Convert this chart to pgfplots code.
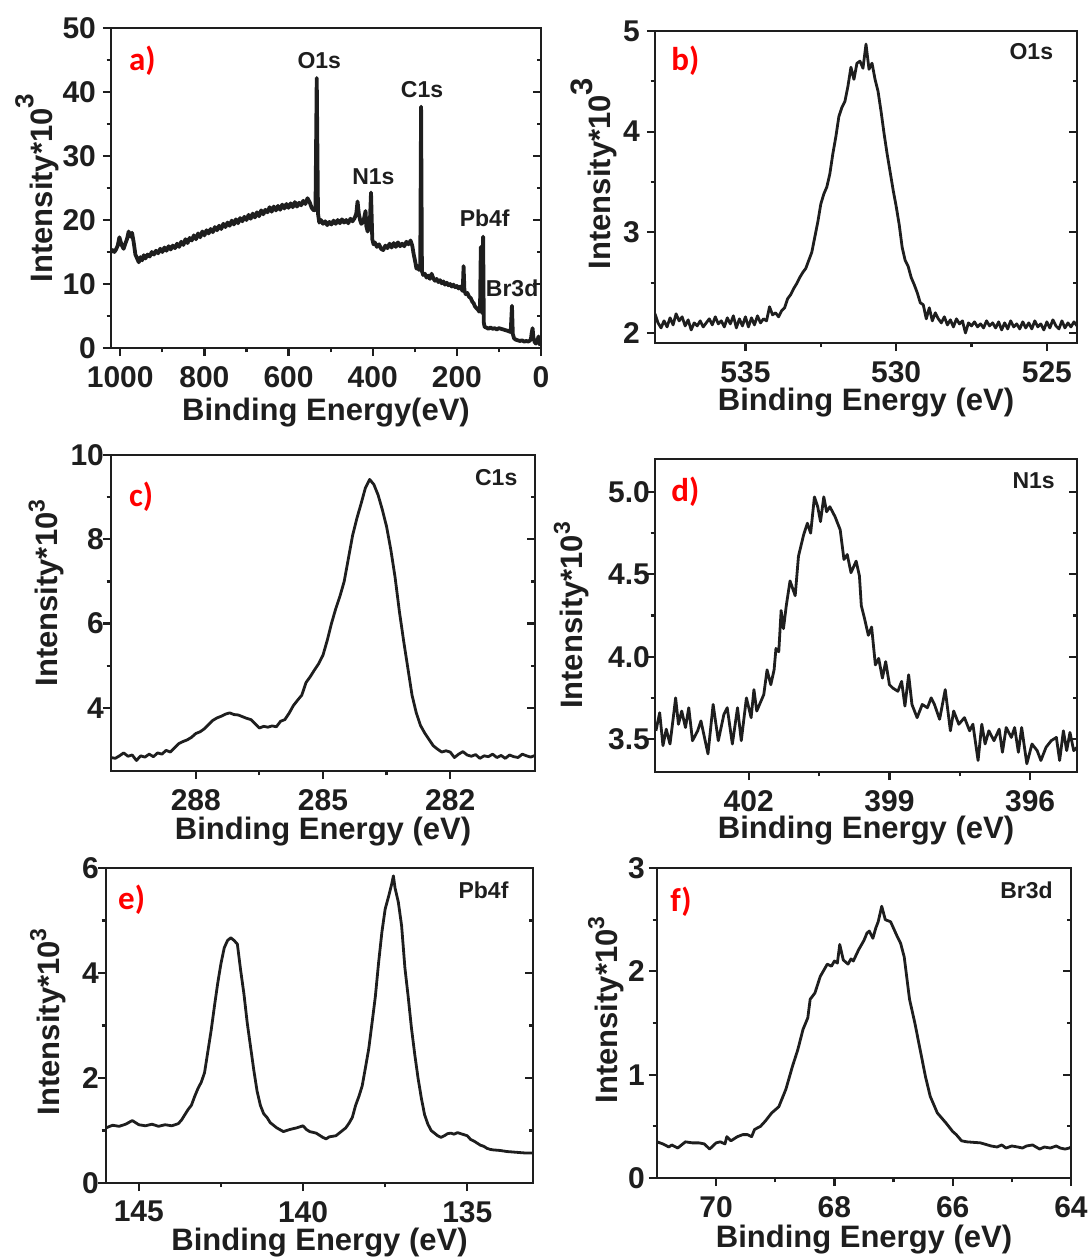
\documentclass[border=0pt]{standalone}
\usepackage{fontspec}
\setmainfont{Liberation Sans}
\newfontfamily\carlito{Carlito}
\usepackage{pgfplots}
\pgfplotsset{compat=1.18}
\definecolor{ink}{RGB}{30,30,30}
\newcommand{\thr}{\raisebox{0.42em}{\fontsize{11.5}{12}\selectfont 3}}
\pgfplotsset{
 panel/.style={
  scale only axis,
  x dir=reverse,
  axis line style={line width=1.2pt, ink},
  tick align=outside,
  xtick pos=bottom, ytick pos=left,
  major tick length=4pt, minor tick length=2.2pt,
  every tick/.style={line width=1.1pt, ink},
  minor x tick num=1, minor y tick num=1,
  tick label style={font=\bfseries\fontsize{15}{15}\selectfont, text=ink},
  xticklabel style={yshift=-1.5pt},
  /pgf/number format/assume math mode=true,
  /pgf/number format/1000 sep={},
  label style={font=\bfseries\fontsize{15.5}{16}\selectfont, text=ink},
  clip=true,
 },
 rt/.style={
  scale only axis, hide x axis, axis y line*=right, xmin=0, xmax=1,
  tick align=inside, yticklabels={}, minor y tick num=1,
  axis line style={line width=1.2pt, ink},
  major tick length=4pt, minor tick length=2.2pt,
  every tick/.style={line width=1.1pt, ink},
 },
 spec/.style={line width=1.4pt, ink, line join=round},
}
\tikzset{
 plab/.style={anchor=base, text=red, font=\carlito\bfseries\fontsize{16.5}{16}\selectfont},
 elab/.style={anchor=base east, text=ink, font=\bfseries\fontsize{11.5}{12}\selectfont},
 alab/.style={anchor=base, text=ink, font=\bfseries\fontsize{11.5}{12}\selectfont},
}
\begin{document}
\begin{tikzpicture}
\useasboundingbox (0pt,0pt) rectangle (546pt,-629.5pt);
% ---------------- a ----------------
\begin{axis}[panel, at={(55.5pt,-14pt)}, anchor=north west, width=215pt, height=160pt,
  xmin=0, xmax=1022, ymin=0, ymax=50, xtick={0,200,...,1000}, ytick={0,10,...,50},
  xlabel={Binding Energy(eV)}, ylabel={Intensity*10\raisebox{0.6em}{\fontsize{13}{13}\selectfont 3}},
  xlabel style={at={(axis description cs:0.5,-0.228)}, anchor=base},
  ylabel style={at={(axis description cs:-0.137,0.5)}, anchor=base}]
\addplot[spec, line width=1.9pt] table {
x y
1022 15.0
1018 15.3
1014 15.0
1010 15.4
1006 16.0
1002 17.3
999 16.6
996 16.0
992 15.5
988 16.3
984 17.0
980 18.2
976 17.4
972 18.0
968 16.5
964 14.6
960 14.0
956 13.4
952 14.2
948 13.7
944 14.5
940 14.0
935 14.6
930 14.3
925 15.0
920 14.6
915 15.2
910 14.8
905 15.5
900 15.0
895 15.7
890 15.2
885 15.9
880 15.4
875 16.0
870 15.6
865 16.3
860 15.8
855 16.6
850 16.1
845 17.0
840 16.4
835 17.2
830 16.8
825 17.6
820 17.0
815 17.9
810 17.3
805 18.2
800 17.6
795 18.4
790 17.9
785 18.6
780 18.1
775 18.9
770 18.4
765 19.1
760 18.6
755 19.4
750 18.9
745 19.6
740 19.1
735 19.9
730 19.3
725 20.1
720 19.5
715 20.3
710 19.8
705 20.5
700 20.0
695 20.8
690 20.2
685 21.0
680 20.4
675 21.2
670 20.6
665 21.5
660 20.9
655 21.6
650 21.2
645 22.0
640 21.3
635 22.1
630 21.5
625 22.2
620 21.6
615 22.4
610 21.8
605 22.5
600 21.9
595 22.6
590 22.0
585 22.8
580 22.1
575 22.7
570 22.3
565 23.0
560 22.5
555 23.4
550 22.8
545 21.9
540 21.5
536 21.6
533 42.2
530 21.0
527 19.6
523 20.0
518 19.4
513 19.8
508 19.2
503 19.7
498 19.3
493 19.9
488 19.4
483 20.0
478 19.5
473 20.1
468 19.6
463 20.0
458 19.5
453 20.2
448 19.8
443 20.3
439 21.0
436 22.9
433 21.0
430 20.0
427 19.4
424 19.6
420 20.4
417 21.4
415 19.0
412 18.2
410 18.6
407 19.0
404 24.3
401 17.0
398 16.2
395 16.5
390 15.8
385 16.2
380 15.5
375 15.3
370 16.0
365 15.6
360 16.3
355 15.7
350 16.4
345 15.8
340 16.5
335 15.9
330 16.3
325 15.9
320 16.6
315 16.2
310 16.8
306 16.0
303 14.8
299 13.5
296 12.4
293 12.8
290 12.2
287 13.0
285 37.7
283 12.0
280 11.4
276 11.6
272 11.0
268 11.3
264 10.8
260 11.6
256 10.9
252 10.5
248 10.8
244 10.3
240 10.6
236 10.1
232 10.4
228 9.9
224 10.2
220 9.8
216 10.0
212 9.6
208 9.9
204 9.5
200 9.7
196 9.3
192 9.6
189 9.2
186 8.9
184 12.8
182 9.0
179 8.4
175 8.6
171 8.0
167 7.8
163 7.2
160 7.0
157 6.5
153 6.2
150 6.0
147 5.7
145 5.8
143 15.8
141 6.0
139 5.4
137.5 17.4
136 4.0
134 3.3
130 3.2
125 3.0
120 3.2
115 3.0
110 3.1
105 2.9
100 3.1
95 3.0
90 2.9
85 2.8
80 2.7
76 2.6
72 2.5
69 6.6
67 2.2
64 1.5
60 1.3
55 1.2
50 1.1
45 1.2
40 1.0
35 1.1
30 1.0
26 1.2
24 1.4
22 2.4
20 3.1
18 1.6
15 0.9
12 0.7
9 1.0
6 1.8
4 0.8
1 0.4
};
\node[plab] at (axis description cs:0.073,0.867) {a)};
\node[alab] at (axis cs:527,43.7) {O1s};
\node[alab] at (axis cs:282.6,39.2) {C1s};
\node[alab] at (axis cs:398.3,25.5) {N1s};
\node[alab] at (axis cs:133.8,18.95) {Pb4f};
\node[alab] at (axis cs:68.6,8.0) {Br3d};
\end{axis}
\begin{axis}[rt, at={(55.5pt,-14pt)}, anchor=north west, width=215pt, height=160pt, ymin=0, ymax=50, ytick={0,10,...,50}]
\end{axis}
% ---------------- b ----------------
\begin{axis}[panel, at={(327.5pt,-15.5pt)}, anchor=north west, width=211pt, height=156pt,
  xmin=524, xmax=538, ymin=1.9, ymax=5, xtick={525,530,535}, ytick={2,3,4,5},
  xlabel={Binding Energy (eV)}, ylabel={Intensity*10\raisebox{0.6em}{3}},
  xlabel style={at={(axis description cs:0.5,-0.215)}, anchor=base},
  ylabel style={at={(axis description cs:-0.105,0.543)}, anchor=base}]
\addplot[spec] table {
x y
538.0 2.19
537.9 2.10
537.8 2.05
537.7 2.12
537.6 2.06
537.5 2.15
537.4 2.08
537.3 2.19
537.2 2.12
537.1 2.16
537.0 2.07
536.9 2.13
536.8 2.03
536.7 2.10
536.6 2.07
536.5 2.12
536.4 2.06
536.3 2.10
536.2 2.14
536.1 2.08
536.0 2.16
535.9 2.09
535.8 2.12
535.7 2.06
535.6 2.15
535.5 2.09
535.4 2.17
535.3 2.05
535.2 2.14
535.1 2.07
535.0 2.16
534.9 2.06
534.8 2.15
534.7 2.08
534.6 2.17
534.5 2.10
534.4 2.14
534.3 2.12
534.2 2.26
534.1 2.18
534.0 2.20
533.9 2.16
533.8 2.22
533.7 2.25
533.6 2.34
533.5 2.38
533.4 2.44
533.3 2.49
533.2 2.55
533.1 2.60
533.0 2.64
532.9 2.72
532.8 2.80
532.7 2.95
532.6 3.10
532.5 3.28
532.4 3.38
532.3 3.45
532.2 3.58
532.1 3.78
532.0 3.95
531.9 4.15
531.8 4.24
531.7 4.30
531.6 4.45
531.5 4.64
531.4 4.52
531.3 4.68
531.2 4.70
531.1 4.63
531.0 4.87
530.9 4.62
530.8 4.68
530.7 4.52
530.6 4.40
530.5 4.20
530.4 3.98
530.3 3.78
530.2 3.60
530.1 3.42
530.0 3.26
529.9 3.08
529.8 2.85
529.7 2.72
529.6 2.66
529.5 2.55
529.4 2.48
529.3 2.40
529.2 2.30
529.1 2.28
529.0 2.14
528.9 2.25
528.8 2.12
528.7 2.20
528.6 2.14
528.5 2.10
528.4 2.16
528.3 2.08
528.2 2.13
528.1 2.06
528.0 2.14
527.9 2.09
527.8 2.12
527.7 2.00
527.6 2.10
527.5 2.07
527.4 2.11
527.3 2.06
527.2 2.09
527.1 2.05
527.0 2.12
526.9 2.07
526.8 2.10
526.7 2.05
526.6 2.11
526.5 2.03
526.4 2.10
526.3 2.04
526.2 2.12
526.1 2.06
526.0 2.09
525.9 2.04
525.8 2.11
525.7 2.05
525.6 2.10
525.5 2.04
525.4 2.12
525.3 2.06
525.2 2.09
525.1 2.03
525.0 2.11
524.9 2.05
524.8 2.13
524.7 2.07
524.6 2.04
524.5 2.12
524.4 2.05
524.3 2.10
524.2 2.06
524.1 2.11
524.0 2.07
};
\node[plab] at (axis description cs:0.072,0.872) {b)};
\node[elab] at (axis description cs:0.96,0.909) {O1s};
\end{axis}
\begin{axis}[rt, at={(327.5pt,-15.5pt)}, anchor=north west, width=211pt, height=156pt, ymin=1.9, ymax=5, ytick={2,3,4,5}]
\end{axis}
% ---------------- c ----------------
\begin{axis}[panel, at={(55.5pt,-227.5pt)}, anchor=north west, width=212pt, height=158pt,
  xmin=280, xmax=290, ymin=2.5, ymax=10, xtick={282,285,288}, ytick={4,6,8,10},
  yticklabel style={xshift=4pt},
  xlabel={Binding Energy (eV)}, ylabel={Intensity*10\thr},
  xlabel style={at={(axis description cs:0.5,-0.218)}, anchor=base},
  ylabel style={at={(axis description cs:-0.126,0.563)}, anchor=base}]
\addplot[spec] table {
x y
290.0 2.82
289.9 2.80
289.8 2.86
289.7 2.93
289.6 2.85
289.5 2.88
289.4 2.75
289.3 2.86
289.2 2.83
289.1 2.90
289.0 2.84
288.9 2.93
288.8 2.90
288.7 2.99
288.6 2.95
288.5 3.05
288.4 3.15
288.3 3.20
288.2 3.24
288.1 3.30
288.0 3.39
287.9 3.43
287.8 3.50
287.7 3.60
287.6 3.70
287.5 3.76
287.4 3.80
287.3 3.85
287.2 3.88
287.1 3.84
287.0 3.83
286.9 3.79
286.8 3.75
286.7 3.72
286.6 3.62
286.5 3.52
286.4 3.56
286.3 3.54
286.2 3.57
286.1 3.55
286.0 3.68
285.9 3.72
285.8 3.87
285.7 4.05
285.6 4.18
285.5 4.30
285.4 4.60
285.3 4.74
285.2 4.90
285.1 5.05
285.0 5.25
284.9 5.60
284.8 6.00
284.7 6.35
284.6 6.65
284.5 7.00
284.4 7.55
284.3 8.10
284.2 8.50
284.1 8.85
284.0 9.22
283.9 9.42
283.8 9.30
283.7 9.05
283.6 8.70
283.5 8.30
283.4 7.75
283.3 7.10
283.2 6.30
283.1 5.60
283.0 4.95
282.9 4.30
282.8 3.88
282.7 3.58
282.6 3.40
282.5 3.25
282.4 3.10
282.3 3.02
282.2 2.95
282.1 2.98
282.0 2.95
281.9 2.82
281.8 2.90
281.7 2.96
281.6 2.88
281.5 2.85
281.4 2.89
281.3 2.80
281.2 2.86
281.1 2.84
281.0 2.90
280.9 2.82
280.8 2.87
280.7 2.80
280.6 2.88
280.5 2.84
280.4 2.82
280.3 2.90
280.2 2.86
280.1 2.83
280.0 2.87
};
\node[plab] at (axis description cs:0.071,0.836) {c)};
\node[elab] at (axis description cs:0.975,0.905) {C1s};
\end{axis}
\begin{axis}[rt, at={(55.5pt,-227.5pt)}, anchor=north west, width=212pt, height=158pt, ymin=2.5, ymax=10, ytick={4,6,8,10}]
\end{axis}
% ---------------- d ----------------
\begin{axis}[panel, at={(327.5pt,-229.5pt)}, anchor=north west, width=211pt, height=156.5pt,
  xmin=395, xmax=404, ymin=3.3, ymax=5.2, xtick={396,399,402}, ytick={3.5,4.0,4.5,5.0},
  yticklabel style={/pgf/number format/fixed, /pgf/number format/fixed zerofill, /pgf/number format/precision=1, /tikz/xshift=5pt},
  xlabel={Binding Energy (eV)}, ylabel={Intensity*10\thr},
  xlabel style={at={(axis description cs:0.5,-0.214)}, anchor=base},
  ylabel style={at={(axis description cs:-0.171,0.5)}, anchor=base}]
\addplot[spec] table {
x y
403.98 3.55
403.90 3.66
403.83 3.46
403.76 3.56
403.68 3.47
403.61 3.63
403.56 3.75
403.50 3.59
403.43 3.67
403.35 3.57
403.28 3.69
403.20 3.49
403.09 3.55
403.02 3.61
402.87 3.41
402.76 3.71
402.65 3.49
402.53 3.65
402.46 3.69
402.35 3.47
402.24 3.69
402.16 3.49
402.05 3.75
401.95 3.63
401.89 3.80
401.83 3.67
401.68 3.77
401.61 3.92
401.53 3.83
401.46 3.92
401.42 4.05
401.36 4.03
401.31 4.28
401.26 4.17
401.20 4.31
401.12 4.46
401.01 4.37
400.94 4.61
400.83 4.74
400.75 4.81
400.68 4.75
400.60 4.97
400.53 4.91
400.47 4.82
400.40 4.97
400.34 4.88
400.27 4.91
400.16 4.85
400.05 4.77
399.97 4.59
399.90 4.62
399.82 4.51
399.71 4.58
399.64 4.49
399.60 4.31
399.53 4.23
399.45 4.13
399.38 4.18
399.30 3.95
399.23 3.99
399.15 3.87
399.08 3.97
399.00 3.83
398.93 3.81
398.82 3.79
398.74 3.85
398.67 3.70
398.59 3.89
398.52 3.71
398.41 3.63
398.30 3.71
398.19 3.69
398.11 3.75
398.04 3.71
397.93 3.62
397.81 3.80
397.70 3.55
397.63 3.67
397.52 3.59
397.40 3.63
397.29 3.55
397.22 3.59
397.11 3.37
397.03 3.59
396.96 3.47
396.88 3.55
396.77 3.49
396.66 3.56
396.59 3.42
396.51 3.57
396.40 3.51
396.33 3.57
396.25 3.42
396.18 3.57
396.07 3.35
395.96 3.47
395.85 3.43
395.77 3.37
395.66 3.45
395.55 3.49
395.44 3.51
395.37 3.37
395.29 3.55
395.22 3.43
395.15 3.54
395.07 3.43
395.00 3.45
};
\node[plab] at (axis description cs:0.072,0.864) {d)};
\node[elab] at (axis description cs:0.964,0.906) {N1s};
\end{axis}
\begin{axis}[rt, at={(327.5pt,-229.5pt)}, anchor=north west, width=211pt, height=156.5pt, ymin=3.3, ymax=5.2, ytick={3.5,4.0,4.5,5.0}]
\end{axis}
% ---------------- e ----------------
\begin{axis}[panel, at={(53pt,-434pt)}, anchor=north west, width=213.5pt, height=157.5pt,
  xmin=133, xmax=146, ymin=0, ymax=6, xtick={135,140,145}, ytick={0,2,4,6},
  yticklabel style={xshift=4pt},
  xlabel={Binding Energy (eV)}, ylabel={Intensity*10\thr},
  xlabel style={at={(axis description cs:0.5,-0.213)}, anchor=base},
  ylabel style={at={(axis description cs:-0.110,0.512)}, anchor=base}]
\addplot[spec] table {
x y
146.0 1.05
145.8 1.10
145.6 1.08
145.4 1.12
145.2 1.19
145.0 1.11
144.8 1.09
144.6 1.12
144.4 1.08
144.2 1.11
144.0 1.09
143.8 1.13
143.7 1.20
143.6 1.30
143.5 1.40
143.4 1.48
143.3 1.65
143.2 1.80
143.1 1.92
143.0 2.10
142.9 2.50
142.8 2.90
142.7 3.36
142.6 3.80
142.5 4.18
142.4 4.48
142.3 4.62
142.2 4.67
142.1 4.62
142.0 4.55
141.9 4.05
141.8 3.60
141.7 3.05
141.6 2.60
141.5 2.15
141.4 1.75
141.3 1.48
141.2 1.32
141.1 1.25
141.0 1.15
140.9 1.10
140.8 1.05
140.6 0.98
140.4 1.02
140.2 1.05
140.0 1.09
139.9 1.02
139.8 0.98
139.6 0.95
139.4 0.87
139.3 0.84
139.2 0.88
139.0 0.90
138.9 0.95
138.8 1.00
138.7 1.05
138.6 1.14
138.5 1.25
138.4 1.48
138.3 1.65
138.2 1.85
138.1 2.20
138.0 2.56
137.9 3.05
137.8 3.55
137.7 4.20
137.6 4.78
137.5 5.22
137.4 5.45
137.3 5.70
137.25 5.85
137.2 5.62
137.1 5.35
137.0 4.90
136.9 4.10
136.8 3.55
136.7 2.95
136.6 2.45
136.5 2.00
136.4 1.62
136.3 1.30
136.2 1.12
136.1 1.00
136.0 0.95
135.9 0.90
135.8 0.87
135.7 0.90
135.6 0.94
135.5 0.95
135.4 0.93
135.3 0.96
135.2 0.94
135.0 0.90
134.9 0.83
134.8 0.80
134.7 0.76
134.6 0.72
134.5 0.70
134.4 0.66
134.3 0.64
134.2 0.63
134.0 0.62
133.8 0.60
133.6 0.59
133.4 0.58
133.2 0.57
133.0 0.57
};
\node[plab] at (axis description cs:0.060,0.867) {e)};
\node[elab] at (axis description cs:0.959,0.904) {Pb4f};
\end{axis}
\begin{axis}[rt, at={(53pt,-434pt)}, anchor=north west, width=213.5pt, height=157.5pt, ymin=0, ymax=6, ytick={0,2,4,6}]
\end{axis}
% ---------------- f ----------------
\begin{axis}[panel, at={(328.5pt,-434pt)}, anchor=north west, width=207pt, height=155pt,
  xmin=64, xmax=71, ymin=0, ymax=3, xtick={64,66,68,70}, ytick={0,1,2,3},
  yticklabel style={xshift=1.5pt},
  xlabel={Binding Energy (eV)}, ylabel={Intensity*10\thr},
  xlabel style={at={(axis description cs:0.5,-0.223)}, anchor=base},
  ylabel style={at={(axis description cs:-0.096,0.542)}, anchor=base}]
\addplot[spec] table {
x y
71.0 0.35
70.9 0.33
70.8 0.30
70.75 0.32
70.65 0.29
70.52 0.35
70.4 0.34
70.29 0.34
70.2 0.33
70.11 0.28
70.0 0.34
69.93 0.35
69.85 0.33
69.82 0.40
69.75 0.36
69.64 0.40
69.55 0.42
69.47 0.42
69.4 0.40
69.35 0.47
69.25 0.50
69.17 0.55
69.06 0.63
68.94 0.69
68.82 0.86
68.71 1.08
68.62 1.24
68.53 1.44
68.45 1.55
68.41 1.73
68.33 1.79
68.24 1.95
68.12 2.07
68.05 2.05
68.0 2.10
67.95 2.08
67.91 2.26
67.85 2.11
67.77 2.07
67.72 2.12
67.68 2.10
67.59 2.21
67.5 2.30
67.45 2.37
67.41 2.39
67.35 2.32
67.3 2.42
67.26 2.48
67.2 2.63
67.14 2.50
67.05 2.48
66.94 2.34
66.88 2.27
66.82 2.14
66.73 1.73
66.64 1.50
66.55 1.24
66.46 0.98
66.38 0.79
66.26 0.63
66.11 0.53
66.0 0.45
65.94 0.42
65.85 0.36
65.76 0.35
65.53 0.34
65.35 0.31
65.25 0.30
65.17 0.32
65.1 0.29
65.0 0.31
64.9 0.30
64.82 0.29
64.75 0.31
64.65 0.32
64.53 0.28
64.45 0.30
64.35 0.29
64.25 0.31
64.18 0.29
64.1 0.28
64.03 0.29
64.0 0.30
};
\node[plab] at (axis description cs:0.058,0.859) {f)};
\node[elab] at (axis description cs:0.973,0.902) {Br3d};
\end{axis}
\begin{axis}[rt, at={(328.5pt,-434pt)}, anchor=north west, width=207pt, height=155pt, ymin=0, ymax=3, ytick={0,1,2,3}]
\end{axis}
\end{tikzpicture}
\end{document}
